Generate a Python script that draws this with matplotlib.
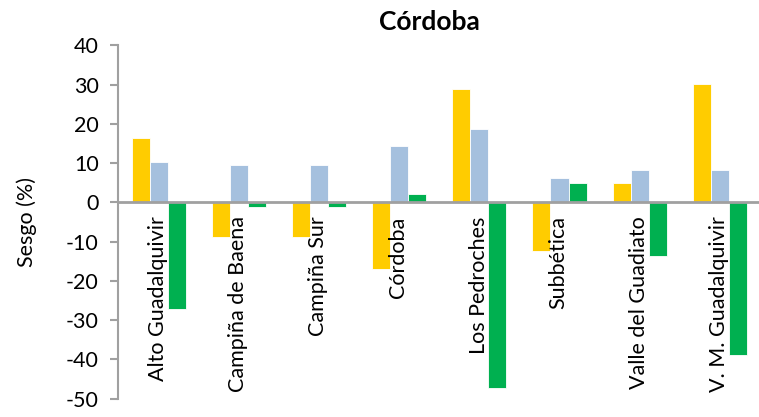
import matplotlib
matplotlib.use("Agg")
import matplotlib.pyplot as plt
import numpy as np

plt.rcParams['font.family'] = ['Lato', 'DejaVu Sans']

categories = ["Alto Guadalquivir", "Campiña de Baena", "Campiña Sur", "Córdoba",
              "Los Pedroches", "Subbética", "Valle del Guadiato", "V. M. Guadalquivir"]
serie_a = [16.5, -8.8, -8.8, -17.0, 28.8, -12.3, 4.8, 30.2]
serie_b = [10.3, 9.6, 9.6, 14.4, 18.6, 6.2, 8.2, 8.2]
serie_c = [-27.3, -1.3, -1.3, 2.1, -47.2, 4.8, -13.6, -39.0]
yticks = [40, 30, 20, 10, 0, -10, -20, -30, -40, -50]

colors = ["#FFCC00", "#A5C0DE", "#00B050"]
axis_gray = "#A0A0A0"
fs = 15.5

fig = plt.figure(figsize=(7.59, 4.17), dpi=100)
ax = fig.add_axes([118/759, 0.0441, 1 - 118/759, 0.8914 - 0.0441])

x = np.arange(len(categories))
w = 0.225
for i, (vals, c) in enumerate(zip([serie_a, serie_b, serie_c], colors)):
    ax.bar(x + (i - 1) * w + 0.01, vals, width=w, color=c,
           edgecolor="white", linewidth=0.6, zorder=2)

ax.set_xlim(-0.5, len(categories) - 0.5)
ax.set_ylim(-50, 40)
ax.set_yticks(yticks)
ax.set_yticklabels([str(t) for t in yticks], fontsize=fs)
ax.set_xticks([])

for s in ["top", "right", "bottom"]:
    ax.spines[s].set_visible(False)
ax.spines["left"].set_color(axis_gray)
ax.spines["left"].set_linewidth(1.5)
ax.tick_params(axis="y", colors=axis_gray, length=6, width=1.5, pad=8, labelcolor="black")
ax.axhline(0, color=axis_gray, linewidth=2, zorder=3)

for xi, name in zip(x, categories):
    ax.text(xi, -3.6, name, rotation=90, ha="center", va="top", fontsize=fs, zorder=4)

ax.set_ylabel("Sesgo (%)", fontsize=fs)
ax.yaxis.set_label_coords((37 - 118) / 641, 0.5)
fig.text(429/759, 1 - 22/417, "Córdoba", ha="center", va="center",
         fontsize=19, fontweight="bold")

fig.savefig("out.png", dpi=100)
